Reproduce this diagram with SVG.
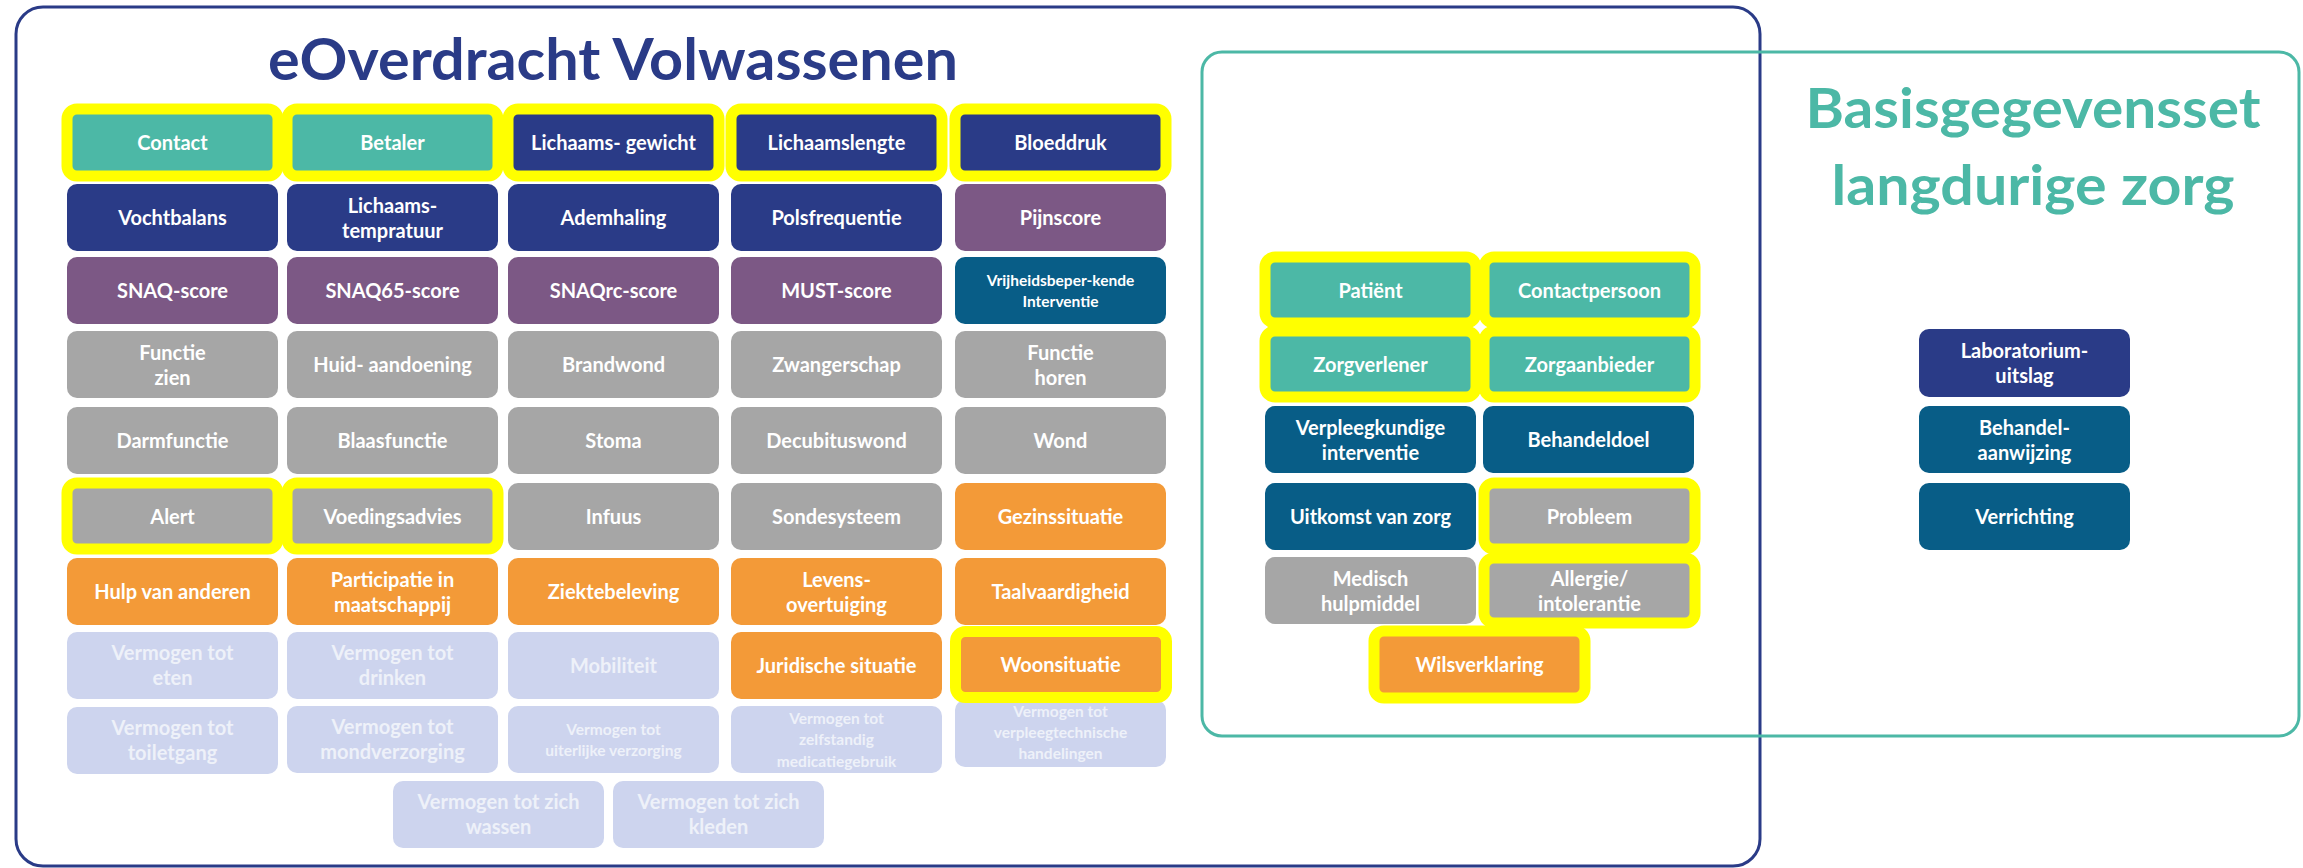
<svg xmlns="http://www.w3.org/2000/svg" width="2303" height="868" viewBox="0 0 2303 868">
<style>
.t{font-family:Lato,"Open Sans","Liberation Sans",sans-serif;font-weight:bold;font-size:20px;fill:#ffffff;text-anchor:middle}
.s{font-size:15.5px}
.lt{fill:#eef1f9}
.navy{fill:#2a3b87}
.teal{fill:#4cb8a6}
.purple{fill:#7c5885}
.blue{fill:#085d87}
.gray{fill:#a6a6a6}
.orange{fill:#f39a38}
.lav{fill:#cdd4ee}
.hl{stroke:#ffff00;stroke-width:11}
.title{font-family:Lato,"Open Sans","Liberation Sans",sans-serif;font-weight:bold;text-anchor:middle}
</style>
<rect width="2303" height="868" fill="#ffffff"/>
<g id="frame-eoverdracht">
<rect x="16" y="7" width="1744" height="859" rx="27" fill="none" stroke="#2a3b87" stroke-width="3"/>
<text class="title" x="613" y="80" font-size="58" fill="#2a3b87" textLength="690" lengthAdjust="spacingAndGlyphs">eOverdracht Volwassenen</text>
</g>
<g id="frame-basisgegevensset">
<rect x="1202" y="52" width="1097" height="684" rx="20" fill="none" stroke="#4cb8a6" stroke-width="3"/>
<text class="title" x="2033" y="128" font-size="56" fill="#4cb8a6" textLength="455" lengthAdjust="spacingAndGlyphs">Basisgegevensset</text>
<text class="title" x="2033" y="205" font-size="56" fill="#4cb8a6" textLength="403" lengthAdjust="spacingAndGlyphs">langdurige zorg</text>
</g>
<g id="connectors"></g>

<!-- Row 1 -->
<g id="contact"><rect class="teal hl" x="67" y="109" width="211" height="67" rx="10"/><text class="t" x="172.5" y="150">Contact</text></g>
<g id="betaler"><rect class="teal hl" x="287" y="109" width="211" height="67" rx="10"/><text class="t" x="392.5" y="150">Betaler</text></g>
<g id="lichaamsgewicht"><rect class="navy hl" x="508" y="109" width="211" height="67" rx="10"/><text class="t" x="613.5" y="150">Lichaams- gewicht</text></g>
<g id="lichaamslengte"><rect class="navy hl" x="731" y="109" width="211" height="67" rx="10"/><text class="t" x="836.5" y="150">Lichaamslengte</text></g>
<g id="bloeddruk"><rect class="navy hl" x="955" y="109" width="211" height="67" rx="10"/><text class="t" x="1060.5" y="150">Bloeddruk</text></g>

<!-- Row 2 -->
<g id="vochtbalans"><rect class="navy" x="67" y="184" width="211" height="67" rx="10"/><text class="t" x="172.5" y="225">Vochtbalans</text></g>
<g id="lichaamstemperatuur"><rect class="navy" x="287" y="184" width="211" height="67" rx="10"/><text class="t" x="392.5" y="212.5">Lichaams-</text><text class="t" x="392.5" y="237.5">tempratuur</text></g>
<g id="ademhaling"><rect class="navy" x="508" y="184" width="211" height="67" rx="10"/><text class="t" x="613.5" y="225">Ademhaling</text></g>
<g id="polsfrequentie"><rect class="navy" x="731" y="184" width="211" height="67" rx="10"/><text class="t" x="836.5" y="225">Polsfrequentie</text></g>
<g id="pijnscore"><rect class="purple" x="955" y="184" width="211" height="67" rx="10"/><text class="t" x="1060.5" y="225">Pijnscore</text></g>

<!-- Row 3 -->
<g id="snaq"><rect class="purple" x="67" y="257" width="211" height="67" rx="10"/><text class="t" x="172.5" y="298">SNAQ-score</text></g>
<g id="snaq65"><rect class="purple" x="287" y="257" width="211" height="67" rx="10"/><text class="t" x="392.5" y="298">SNAQ65-score</text></g>
<g id="snaqrc"><rect class="purple" x="508" y="257" width="211" height="67" rx="10"/><text class="t" x="613.5" y="298">SNAQrc-score</text></g>
<g id="must"><rect class="purple" x="731" y="257" width="211" height="67" rx="10"/><text class="t" x="836.5" y="298">MUST-score</text></g>
<g id="vrijheidsbeperkende"><rect class="blue" x="955" y="257" width="211" height="67" rx="10"/><text class="t s" x="1060.5" y="286">Vrijheidsbeper-kende</text><text class="t s" x="1060.5" y="307">Interventie</text></g>

<!-- Row 4 -->
<g id="functie-zien"><rect class="gray" x="67" y="331" width="211" height="67" rx="10"/><text class="t" x="172.5" y="359.5">Functie</text><text class="t" x="172.5" y="384.5">zien</text></g>
<g id="huidaandoening"><rect class="gray" x="287" y="331" width="211" height="67" rx="10"/><text class="t" x="392.5" y="372">Huid- aandoening</text></g>
<g id="brandwond"><rect class="gray" x="508" y="331" width="211" height="67" rx="10"/><text class="t" x="613.5" y="372">Brandwond</text></g>
<g id="zwangerschap"><rect class="gray" x="731" y="331" width="211" height="67" rx="10"/><text class="t" x="836.5" y="372">Zwangerschap</text></g>
<g id="functie-horen"><rect class="gray" x="955" y="331" width="211" height="67" rx="10"/><text class="t" x="1060.5" y="359.5">Functie</text><text class="t" x="1060.5" y="384.5">horen</text></g>

<!-- Row 5 -->
<g id="darmfunctie"><rect class="gray" x="67" y="407" width="211" height="67" rx="10"/><text class="t" x="172.5" y="448">Darmfunctie</text></g>
<g id="blaasfunctie"><rect class="gray" x="287" y="407" width="211" height="67" rx="10"/><text class="t" x="392.5" y="448">Blaasfunctie</text></g>
<g id="stoma"><rect class="gray" x="508" y="407" width="211" height="67" rx="10"/><text class="t" x="613.5" y="448">Stoma</text></g>
<g id="decubituswond"><rect class="gray" x="731" y="407" width="211" height="67" rx="10"/><text class="t" x="836.5" y="448">Decubituswond</text></g>
<g id="wond"><rect class="gray" x="955" y="407" width="211" height="67" rx="10"/><text class="t" x="1060.5" y="448">Wond</text></g>

<!-- Row 6 -->
<g id="alert"><rect class="gray hl" x="67" y="483" width="211" height="66" rx="10"/><text class="t" x="172.5" y="523.5">Alert</text></g>
<g id="voedingsadvies"><rect class="gray hl" x="287" y="483" width="211" height="66" rx="10"/><text class="t" x="392.5" y="523.5">Voedingsadvies</text></g>
<g id="infuus"><rect class="gray" x="508" y="483" width="211" height="67" rx="10"/><text class="t" x="613.5" y="524">Infuus</text></g>
<g id="sondesysteem"><rect class="gray" x="731" y="483" width="211" height="67" rx="10"/><text class="t" x="836.5" y="524">Sondesysteem</text></g>
<g id="gezinssituatie"><rect class="orange" x="955" y="483" width="211" height="67" rx="10"/><text class="t" x="1060.5" y="524">Gezinssituatie</text></g>

<!-- Row 7 -->
<g id="hulp"><rect class="orange" x="67" y="558" width="211" height="67" rx="10"/><text class="t" x="172.5" y="599">Hulp van anderen</text></g>
<g id="participatie"><rect class="orange" x="287" y="558" width="211" height="67" rx="10"/><text class="t" x="392.5" y="586.5">Participatie in</text><text class="t" x="392.5" y="611.5">maatschappij</text></g>
<g id="ziektebeleving"><rect class="orange" x="508" y="558" width="211" height="67" rx="10"/><text class="t" x="613.5" y="599">Ziektebeleving</text></g>
<g id="levensovertuiging"><rect class="orange" x="731" y="558" width="211" height="67" rx="10"/><text class="t" x="836.5" y="586.5">Levens-</text><text class="t" x="836.5" y="611.5">overtuiging</text></g>
<g id="taalvaardigheid"><rect class="orange" x="955" y="558" width="211" height="67" rx="10"/><text class="t" x="1060.5" y="599">Taalvaardigheid</text></g>

<!-- Row 8 -->
<g id="eten"><rect class="lav" x="67" y="632" width="211" height="67" rx="10"/><text class="t lt" x="172.5" y="660">Vermogen tot</text><text class="t lt" x="172.5" y="685">eten</text></g>
<g id="drinken"><rect class="lav" x="287" y="632" width="211" height="67" rx="10"/><text class="t lt" x="392.5" y="660">Vermogen tot</text><text class="t lt" x="392.5" y="685">drinken</text></g>
<g id="mobiliteit"><rect class="lav" x="508" y="632" width="211" height="67" rx="10"/><text class="t lt" x="613.5" y="673">Mobiliteit</text></g>
<g id="juridische"><rect class="orange" x="731" y="632" width="211" height="67" rx="10"/><text class="t" x="836.5" y="673">Juridische situatie</text></g>

<!-- Row 9 -->
<g id="toiletgang"><rect class="lav" x="67" y="707" width="211" height="67" rx="10"/><text class="t lt" x="172.5" y="735">Vermogen tot</text><text class="t lt" x="172.5" y="760">toiletgang</text></g>
<g id="mondverzorging"><rect class="lav" x="287" y="706" width="211" height="67" rx="10"/><text class="t lt" x="392.5" y="734">Vermogen tot</text><text class="t lt" x="392.5" y="759">mondverzorging</text></g>
<g id="uiterlijke-verzorging"><rect class="lav" x="508" y="706" width="211" height="67" rx="10"/><text class="t s lt" x="613.5" y="735">Vermogen tot</text><text class="t s lt" x="613.5" y="756">uiterlijke verzorging</text></g>
<g id="medicatiegebruik"><rect class="lav" x="731" y="706" width="211" height="67" rx="10"/><text class="t s lt" x="836.5" y="724">Vermogen tot</text><text class="t s lt" x="836.5" y="745">zelfstandig</text><text class="t s lt" x="836.5" y="767">medicatiegebruik</text></g>
<g id="verpleegtechnische"><rect class="lav" x="955" y="700" width="211" height="67" rx="10"/><text class="t s lt" x="1060.5" y="717">Vermogen tot</text><text class="t s lt" x="1060.5" y="738">verpleegtechnische</text><text class="t s lt" x="1060.5" y="759">handelingen</text></g>
<g id="woonsituatie"><rect class="orange hl" x="955.5" y="631.5" width="211" height="66" rx="10"/><text class="t" x="1060.5" y="672">Woonsituatie</text></g>

<!-- Row 10 -->
<g id="wassen"><rect class="lav" x="393" y="781" width="211" height="67" rx="10"/><text class="t lt" x="498.5" y="808.5">Vermogen tot zich</text><text class="t lt" x="498.5" y="834">wassen</text></g>
<g id="kleden"><rect class="lav" x="613" y="781" width="211" height="67" rx="10"/><text class="t lt" x="718.5" y="808.5">Vermogen tot zich</text><text class="t lt" x="718.5" y="834">kleden</text></g>

<!-- Basisgegevensset cells -->
<g id="patient"><rect class="teal hl" x="1265" y="257" width="211" height="66" rx="10"/><text class="t" x="1370.5" y="297.5">Patiënt</text></g>
<g id="contactpersoon"><rect class="teal hl" x="1484" y="257" width="211" height="66" rx="10"/><text class="t" x="1589.5" y="297.5">Contactpersoon</text></g>
<g id="zorgverlener"><rect class="teal hl" x="1265" y="331" width="211" height="66" rx="10"/><text class="t" x="1370.5" y="371.5">Zorgverlener</text></g>
<g id="zorgaanbieder"><rect class="teal hl" x="1484" y="331" width="211" height="66" rx="10"/><text class="t" x="1589.5" y="371.5">Zorgaanbieder</text></g>
<g id="verpleegkundige-interventie"><rect class="blue" x="1265" y="406" width="211" height="67" rx="10"/><text class="t" x="1370.5" y="434.5">Verpleegkundige</text><text class="t" x="1370.5" y="459.5">interventie</text></g>
<g id="behandeldoel"><rect class="blue" x="1483" y="406" width="211" height="67" rx="10"/><text class="t" x="1588.5" y="447">Behandeldoel</text></g>
<g id="uitkomst"><rect class="blue" x="1265" y="483" width="211" height="67" rx="10"/><text class="t" x="1370.5" y="524">Uitkomst van zorg</text></g>
<g id="probleem"><rect class="gray hl" x="1484" y="483" width="211" height="66" rx="10"/><text class="t" x="1589.5" y="523.5">Probleem</text></g>
<g id="medisch-hulpmiddel"><rect class="gray" x="1265" y="557" width="211" height="67" rx="10"/><text class="t" x="1370.5" y="585.5">Medisch</text><text class="t" x="1370.5" y="610.5">hulpmiddel</text></g>
<g id="allergie"><rect class="gray hl" x="1484" y="558" width="211" height="65" rx="10"/><text class="t" x="1589.5" y="586">Allergie/</text><text class="t" x="1589.5" y="611">intolerantie</text></g>
<g id="wilsverklaring"><rect class="orange hl" x="1374" y="631" width="211" height="67" rx="10"/><text class="t" x="1479.5" y="672">Wilsverklaring</text></g>

<g id="laboratoriumuitslag"><rect class="navy" x="1919" y="329" width="211" height="68" rx="10"/><text class="t" x="2024.5" y="358">Laboratorium-</text><text class="t" x="2024.5" y="383">uitslag</text></g>
<g id="behandelaanwijzing"><rect class="blue" x="1919" y="406" width="211" height="67" rx="10"/><text class="t" x="2024.5" y="434.5">Behandel-</text><text class="t" x="2024.5" y="459.5">aanwijzing</text></g>
<g id="verrichting"><rect class="blue" x="1919" y="483" width="211" height="67" rx="10"/><text class="t" x="2024.5" y="524">Verrichting</text></g>
</svg>
